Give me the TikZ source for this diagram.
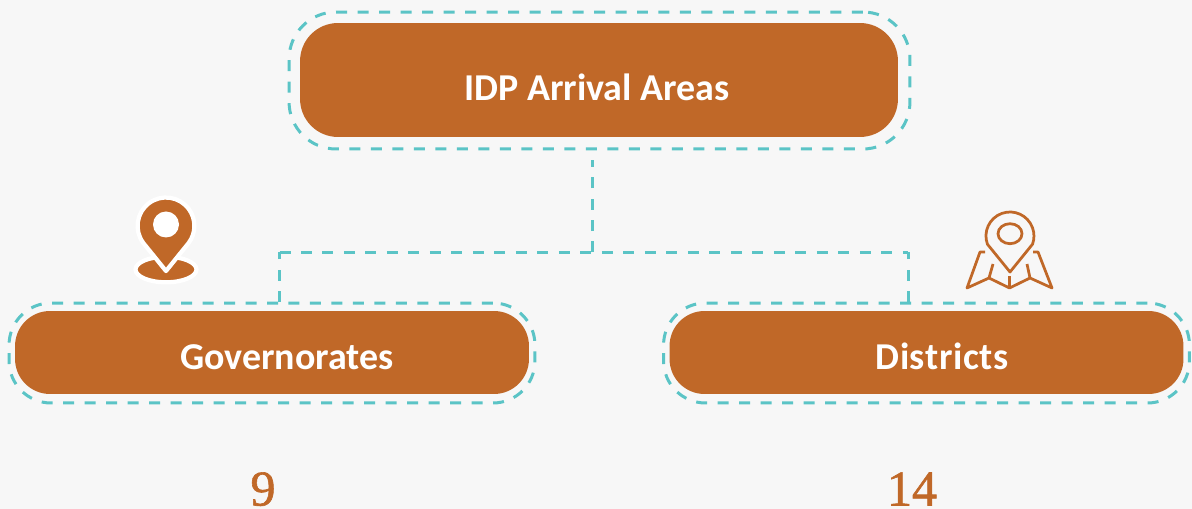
\documentclass[tikz,border=0pt]{standalone}
\usepackage{xcolor}
\usepackage{fontspec}
\setmainfont{Carlito}
\newfontfamily\numfont[FakeBold=1.2]{Liberation Serif}
\definecolor{bgcol}{HTML}{F7F7F7}
\definecolor{boxcol}{HTML}{C06828}
\definecolor{linkcol}{HTML}{5BC4C6}
\tikzset{
	dashbox/.style={draw=linkcol,line width=0.06cm,dash pattern=on 0.22cm off 0.21cm},
	bigbox/.style={fill=boxcol,rounded corners=0.76cm,minimum width=11.96cm,minimum height=2.28cm,inner sep=0pt},
	smallbox/.style={fill=boxcol,rounded corners=0.7cm,minimum width=10.28cm,minimum height=1.66cm,inner sep=0pt},
	bigring/.style={dashbox,rounded corners=0.94cm,minimum width=12.42cm,minimum height=2.74cm,inner sep=0pt},
	smallring/.style={dashbox,rounded corners=0.84cm,minimum width=10.52cm,minimum height=2cm,inner sep=0pt},
	boxtext/.style={text=white,font=\bfseries\fontsize{21.6}{26}\selectfont,anchor=base,inner sep=0pt},
	numtext/.style={text=boxcol,font=\numfont\fontsize{28.5}{32}\selectfont,anchor=base,inner sep=0pt},
}
\begin{document}
\begin{tikzpicture}[x=0.02cm,y=-0.02cm]
	\useasboundingbox (0,0) rectangle (1192,509);
	\fill[bgcol] (0,0) rectangle (1192,509);

	\node (areasring) at (599.5,80.5) [bigring] {};
	\node (areas) at (599,80) [bigbox] {};
	\node[boxtext] (areaslabel) at (597,101) {IDP Arrival Areas};

	\node (govring) at (272,353) [smallring] {};
	\node (gov) at (272,352.5) [smallbox] {};
	\node[boxtext] (govlabel) at (287,370) {Governorates};

	\node (distring) at (926.5,353) [smallring] {};
	\node (dist) at (926.5,352.5) [smallbox] {};
	\node[boxtext] (distlabel) at (942,370) {\addfontfeature{LetterSpace=1.6}Districts};

	\node[numtext] (govnum) at (263,505.5) {9};
	\node[numtext] (distnum) at (912,505.5) {14};

	% links
	\coordinate (areasend) at (592,160);
	\coordinate (fork) at (592,252.5);
	\coordinate (govbend) at (279.5,252.5);
	\coordinate (distbend) at (908,252.5);
	\coordinate (govend) at (279.5,302);
	\coordinate (distend) at (908,302);
	\draw[dashbox] (fork) -- (areasend);
	\draw[dashbox] (govbend) -- (distbend);
	\draw[dashbox] (govend) -- (govbend);
	\draw[dashbox] (distend) -- (distbend);

	% filled pin
	\fill[boxcol,draw=white,line width=0.085cm] (166,269.5) ellipse [x radius=30.5,y radius=12.8];
	\fill[boxcol,draw=white,line width=0.085cm,line join=round] (166,271) -- (143.3,243) arc[start angle=143,end angle=397,radius=28.4] -- cycle;
	\fill[white] (166,224.5) circle [radius=13];

	% map pin
	\begin{scope}[draw=boxcol,line width=0.055cm,line join=round]
		\draw (1010,272) -- (987.4,244.2) arc[start angle=160,end angle=380,radius=24] -- cycle;
		\draw (1010,233.7) ellipse [x radius=12,y radius=10];
		\draw (985,252) -- (980,252) -- (967,288) -- (989,278) -- (1009.5,288) -- (1030,278) -- (1052,288) -- (1038,252) -- (1033,252);
		\draw (989,278) -- (993,264);
		\draw (1030,278) -- (1027,264);
		\draw (1009.5,288) -- (1009.5,276);
	\end{scope}
\end{tikzpicture}
\end{document}
